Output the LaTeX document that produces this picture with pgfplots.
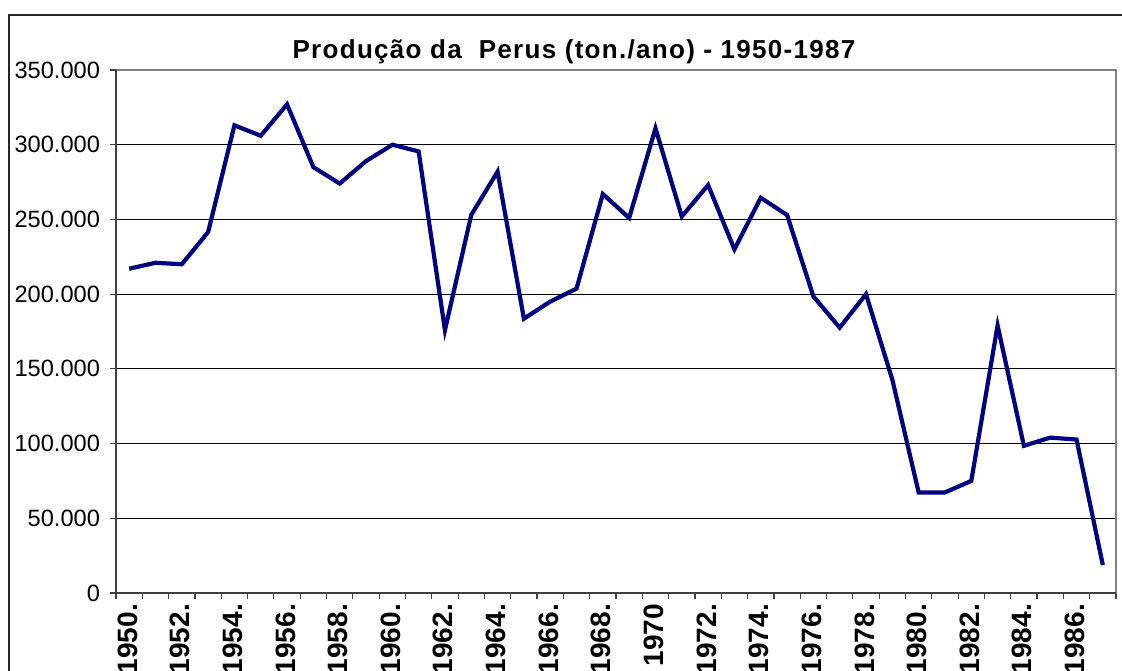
\documentclass[border=0pt]{standalone}
\usepackage{pgfplots}
\pgfplotsset{compat=1.18}
\usepackage{fontspec}
\setmainfont{Liberation Sans}
\definecolor{navyline}{RGB}{0,0,128}
\definecolor{plotgray}{RGB}{128,128,128}
\definecolor{axisgray}{RGB}{64,64,64}
\begin{document}
\begin{tikzpicture}
\useasboundingbox (0pt,0pt) rectangle (561pt,335pt);
\clip (0pt,0pt) rectangle (561pt,335pt);
\draw[line width=1pt,black!85] (4.5pt,-5pt) -- (4.5pt,327.5pt) -- (566pt,327.5pt);
\node[font=\bfseries\fontsize{13}{15}\selectfont\addfontfeature{LetterSpace=5}] at (287pt,309pt) {Produção da\ \ Perus (ton./ano) - 1950-1987};
\begin{axis}[
  at={(58pt,38.5pt)}, anchor=south west,
  width=500pt, height=261.5pt, scale only axis,
  xmin=1949.5, xmax=1987.5,
  ymin=0, ymax=350,
  axis line style={plotgray, line width=0.8pt},
  xtick={1950,1952,...,1986},
  xticklabels={1950.,1952.,1954.,1956.,1958.,1960.,1962.,1964.,1966.,1968.,1970,1972.,1974.,1976.,1978.,1980.,1982.,1984.,1986.},
  minor xtick={1949.5,1950.5,...,1987.5},
  major tick length=0pt,
  minor tick length=3pt,
  tick align=outside,
  tick style={axisgray, line width=0.6pt},
  xtick pos=bottom, ytick pos=left,
  ytick={0,50,...,350},
  yticklabels={0,50.000,100.000,150.000,200.000,250.000,300.000,350.000},
  ymajorgrids,
  major grid style={black, line width=0.5pt},
  xticklabel style={rotate=90, anchor=east, font=\bfseries\fontsize{14}{16}\selectfont, yshift=0.8pt, xshift=-2pt},
  yticklabel style={font=\fontsize{11.8}{14}\selectfont, xshift=-4.5pt},
  extra y ticks={0,50,...,350}, extra y tick labels={},
  extra y tick style={major tick length=3pt, grid=none},
  clip=false,
]
\addplot[navyline, line width=2.1pt, line join=miter] table {
x y
1950 217
1951 221
1952 220
1953 241.5
1954 313
1955 306
1956 327
1957 285
1958 274
1959 289
1960 300
1961 295.5
1962 176
1963 253
1964 282
1965 183.6
1966 195
1967 203.7
1968 267
1969 251
1970 311
1971 252
1972 273
1973 230
1974 264.5
1975 253
1976 198.5
1977 177.6
1978 200
1979 142.8
1980 67.3
1981 67.3
1982 75
1983 179
1984 98.5
1985 104
1986 102.7
1987 18.7
};
\end{axis}
\draw[axisgray, line width=0.8pt] (58pt,38.5pt) -- (58pt,300pt);
\draw[axisgray, line width=0.8pt] (58pt,38.5pt) -- (558pt,38.5pt);
\end{tikzpicture}
\end{document}
